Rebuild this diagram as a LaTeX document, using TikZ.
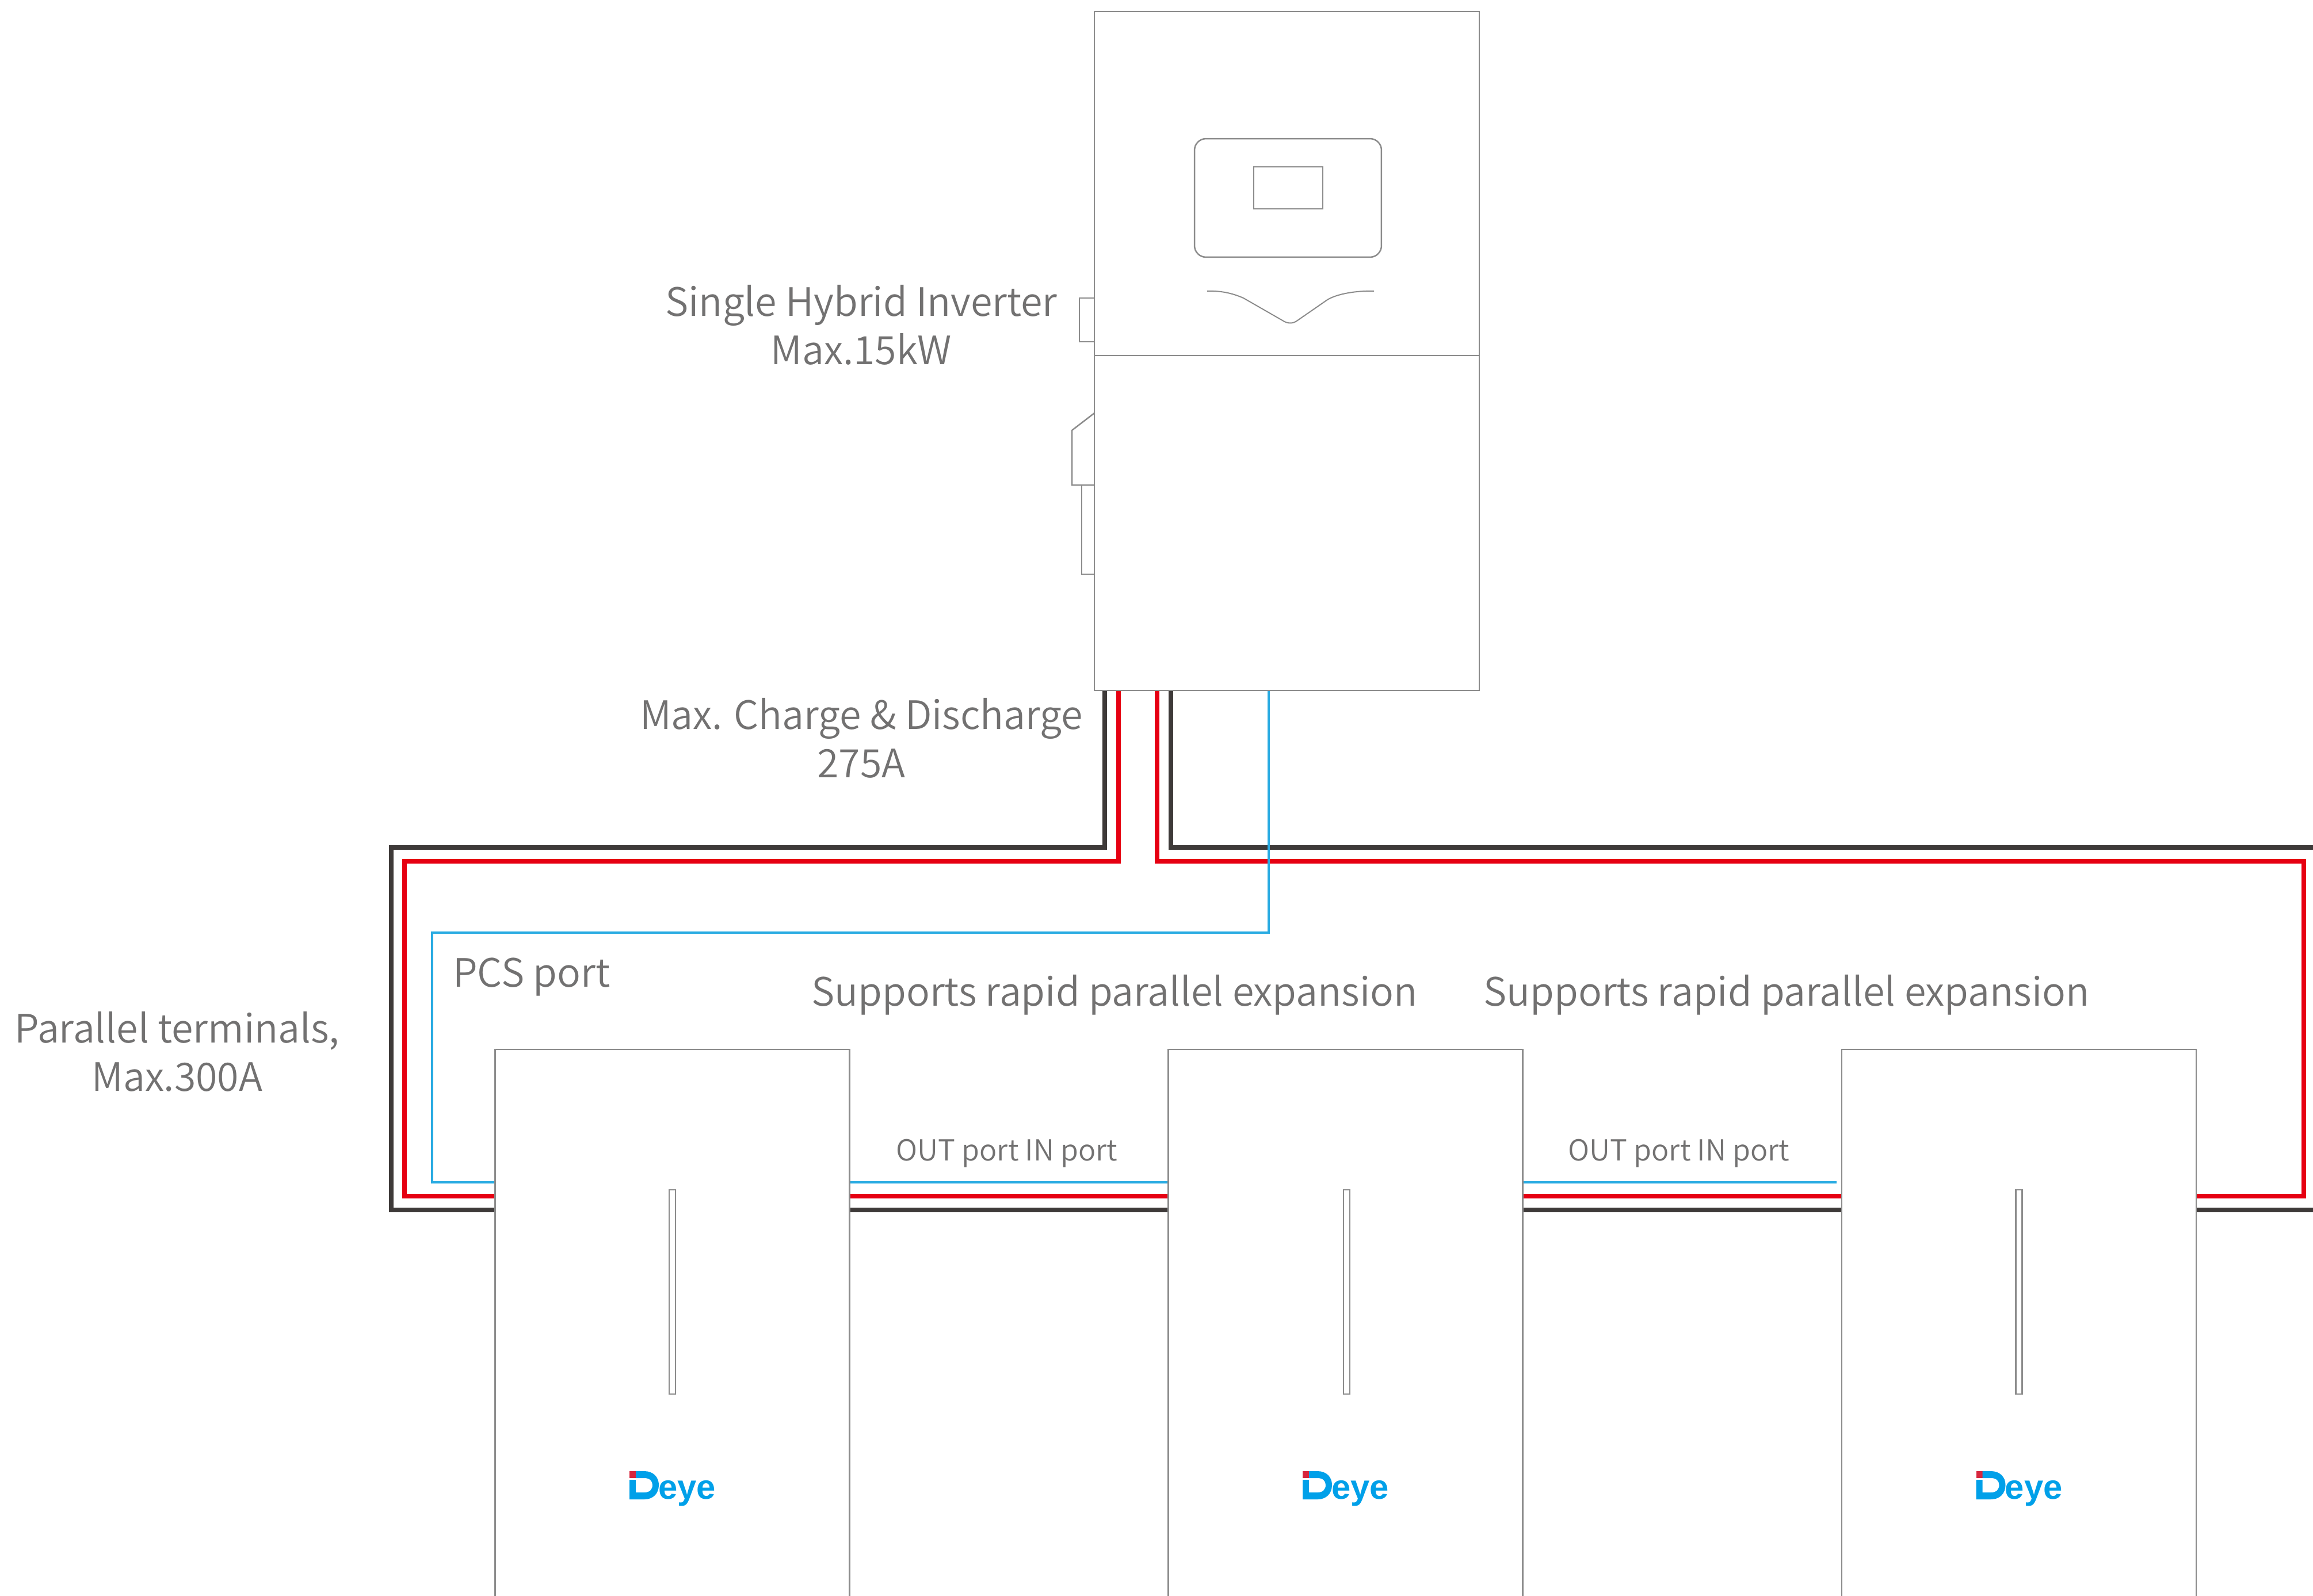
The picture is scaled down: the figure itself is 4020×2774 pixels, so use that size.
\documentclass[tikz,border=0pt]{standalone}
\usepackage{fontspec}
\setmainfont{Noto Sans CJK SC DemiLight}
\newfontfamily\logofont{Liberation Sans}[BoldFont={Liberation Sans Bold}]
\definecolor{outline}{HTML}{8C8C8C}
\definecolor{labelgrey}{HTML}{727171}
\definecolor{cableblack}{HTML}{3E3A39}
\definecolor{cablered}{HTML}{E60012}
\definecolor{cableblue}{HTML}{29ABE2}
\definecolor{logoblue}{HTML}{00A0E9}
\definecolor{logored}{HTML}{D7263D}
\newcommand{\bigtext}{\fontsize{38.7pt}{48.2pt}\selectfont}
\newcommand{\smalltext}{\fontsize{28.6pt}{34pt}\selectfont}
\tikzset{
  thinline/.style={draw=outline,line width=0.05cm,fill=white},
  blackcable/.style={draw=cableblack,line width=0.16cm,miter limit=10},
  redcable/.style={draw=cablered,line width=0.16cm,miter limit=10},
  bluecable/.style={draw=cableblue,line width=0.09cm},
  biglabel/.style={text=labelgrey,font=\bigtext,align=center,inner sep=0pt},
  smalllabel/.style={text=labelgrey,font=\smalltext,align=center,inner sep=0pt},
  boxnode/.style={thinline,rectangle,inner sep=0pt,outer sep=0pt},
}
\begin{document}
\begin{tikzpicture}[x=0.02cm,y=-0.02cm]
\useasboundingbox (0,0) rectangle (4020,2774);
\clip (0,0) rectangle (4020,2774);
% named ends
\coordinate (invBL) at (1920,1200);
\coordinate (invRL) at (1944,1200);
\coordinate (invRR) at (2011,1200);
\coordinate (invBR) at (2035,1200);
\coordinate (invPCS) at (2205,1200);
\coordinate (edgeTop) at (4020,1473);
\coordinate (edgeBot) at (4020,2103);
\coordinate (blackTL) at (680,1473);
\coordinate (blackBL) at (680,2103);
\coordinate (redTL) at (703,1497);
\coordinate (redBL) at (703,2079);
\coordinate (redTR) at (4004,1497);
\coordinate (redBR) at (4004,2079);
\coordinate (blueTL) at (751,1621);
\coordinate (blueBL) at (751,2055);
\coordinate (blueEnd) at (3192,2055);
% cables
\draw[blackcable] (invBL) -- (invBL |- blackTL) -- (blackTL) -- (blackBL) -- (edgeBot);
\draw[blackcable] (invBR) -- (invBR |- edgeTop) -- (edgeTop);
\draw[redcable] (invRL) -- (invRL |- redTL) -- (redTL) -- (redBL) -- (redBR) -- (redTR) -- (invRR |- redTR) -- (invRR);
\draw[bluecable] (invPCS) -- (invPCS |- blueTL) -- (blueTL) -- (blueBL) -- (blueEnd);
% inverter attachments
\draw[thinline] (1902,518) -- (1876,518) -- (1876,594) -- (1902,594);
\draw[thinline] (1902,718) -- (1863,748) -- (1863,843) -- (1902,843);
\draw[thinline] (1880,843) -- (1880,998) -- (1902,998);
% inverter
\node[boxnode,minimum width=13.38cm,minimum height=23.6cm] (inverter) at (2236.5,610) {};
\draw[outline,line width=0.04cm] (inverter.west |- 0,618) -- (inverter.east |- 0,618);
\node[boxnode,rounded corners=0.4cm,minimum width=6.5cm,minimum height=4.12cm] (panel) at (2238.5,344) {};
\node[boxnode,minimum width=2.4cm,minimum height=1.46cm] (screen) at (2239,326.5) {};
\draw[outline,line width=0.04cm] (2098,506) .. controls (2125,505) and (2145,511) .. (2161,518)
  -- (2229,557) .. controls (2238,563) and (2247,563) .. (2255,557)
  -- (2307,521) .. controls (2325,510) and (2360,505) .. (2388,506);
% batteries
\foreach \n/\cx/\sx in {1/1168.5/1168.5,2/2338.5/2340.5,3/3509/3509}{
  \node[boxnode,minimum width=12.32cm,minimum height=20cm] (bat\n) at (\cx,2324) {};
  \node[boxnode,minimum width=0.22cm,minimum height=7.1cm] (slot\n) at (\sx,2245.5) {};
  \begin{scope}[shift={(\cx-1168.5,0)}]
    \fill[logored] (1094,2557) rectangle (1105,2569);
    \fill[logoblue,even odd rule] (1105,2557) -- (1120,2557) .. controls (1135,2557) and (1145,2567) .. (1145,2581)
      .. controls (1145,2596) and (1135,2606) .. (1120,2606) -- (1094,2606) -- (1094,2572) -- (1105,2572) -- (1105,2594) -- (1120,2594)
      .. controls (1129,2594) and (1134,2589) .. (1134,2581) .. controls (1134,2574) and (1129,2569) .. (1120,2569) -- (1105,2569) -- cycle;
    \node[text=logoblue,anchor=base west,inner sep=0pt,font=\logofont\bfseries\fontsize{34pt}{34pt}\selectfont] (logo\n) at (1144,2605) {eye};
  \end{scope}
}
% labels
\node[biglabel] (l1) at (1497,565) {Single Hybrid Inverter\\Max.15kW};
\node[biglabel] (l2) at (1497,1283) {Max. Charge \& Discharge\\275A};
\node[biglabel] (l3) at (308,1828) {Parallel terminals,\\Max.300A};
\node[biglabel,anchor=west] (l4) at (787,1698) {PCS port};
\node[biglabel] (l5) at (1937,1729) {Supports rapid parallel expansion};
\node[biglabel] (l6) at (3105,1729) {Supports rapid parallel expansion};
\node[smalllabel] (l7) at (1750,2005) {OUT port IN port};
\node[smalllabel] (l8) at (2918,2005) {OUT port IN port};
\end{tikzpicture}
\end{document}
